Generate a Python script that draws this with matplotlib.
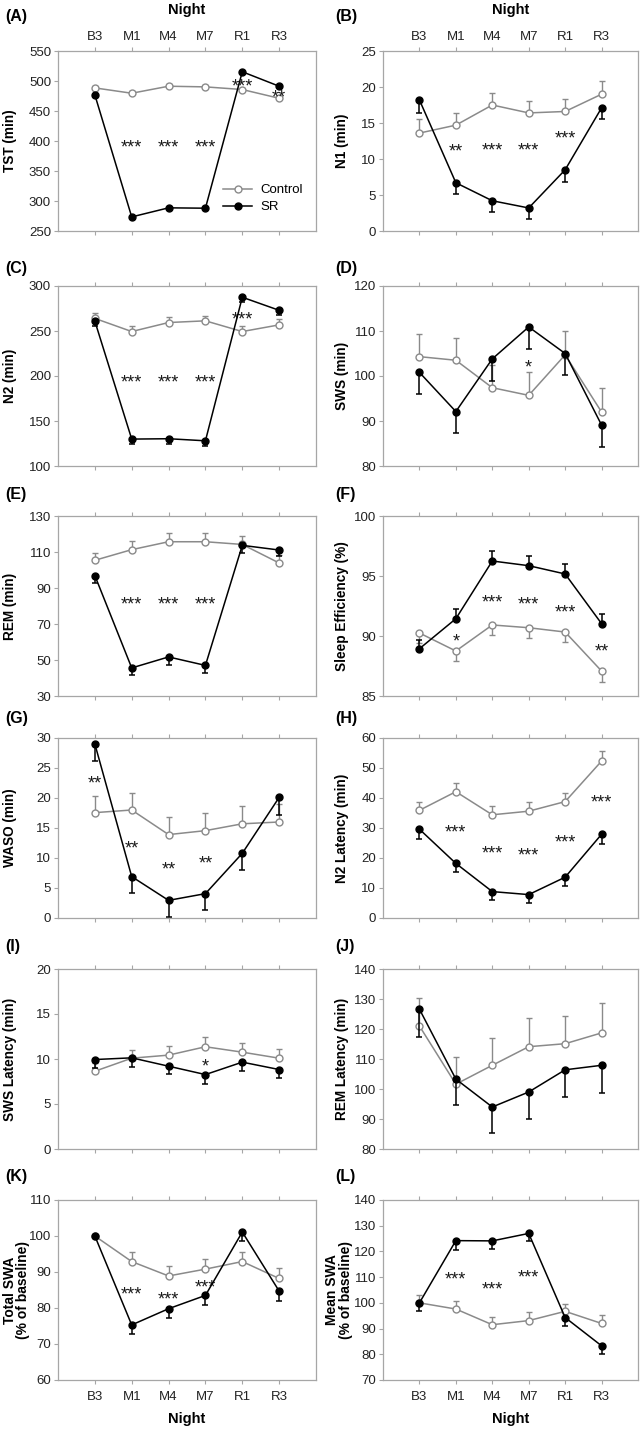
import numpy as np
import matplotlib
matplotlib.use("Agg")
import matplotlib.pyplot as plt
from matplotlib.lines import Line2D

plt.rcParams["font.family"] = ["Liberation Sans", "DejaVu Sans"]

nights = ["B3", "M1", "M4", "M7", "R1", "R3"]

# (A) TST
tst_ctrl = [488.5, 479.6, 491.3, 490.2, 485.8, 471.2]
tst_ctrl_err = [3, 3, 3, 3, 3, 3]
tst_sr = [476.8, 273.5, 288.6, 288.0, 515.4, 491.3]
tst_sr_err = [3, 3, 3, 3, 3, 3]
tst_star_x = [1, 2, 3, 4, 5]
tst_star_txt = ["***", "***", "***", "***", "**"]
tst_star_y = [397, 397, 397, 500, 481]

# (B) N1
n1_ctrl = [13.6, 14.7, 17.5, 16.4, 16.6, 19.0]
n1_ctrl_err = [1.9, 1.7, 1.7, 1.7, 1.7, 1.9]
n1_sr = [18.2, 6.7, 4.2, 3.2, 8.5, 17.1]
n1_sr_err = [1.8, 1.5, 1.5, 1.6, 1.7, 1.6]
n1_star_x = [1, 2, 3, 4]
n1_star_txt = ["**", "***", "***", "***"]
n1_star_y = [11.8, 11.9, 11.9, 13.5]

# (C) N2
n2_ctrl = [264.0, 249.4, 259.4, 261.3, 249.4, 256.8]
n2_ctrl_err = [6, 6, 6, 5.5, 6, 6]
n2_sr = [260.9, 129.9, 130.3, 128.0, 287.5, 273.0]
n2_sr_err = [5.5, 5.5, 5.5, 5.5, 5, 5]
n2_star_x = [1, 2, 3, 4]
n2_star_txt = ["***", "***", "***", "***"]
n2_star_y = [198, 198, 198, 269]

# (D) SWS
sws_ctrl = [104.3, 103.5, 97.4, 95.7, 104.7, 92.0]
sws_ctrl_err = [5.1, 5.0, 5.1, 5.1, 5.2, 5.3]
sws_sr = [100.8, 92.1, 103.8, 110.9, 105.0, 89.1]
sws_sr_err = [4.9, 4.8, 4.8, 4.8, 4.8, 4.8]
sws_star_x = [3]
sws_star_txt = ["*"]
sws_star_y = [103]

# (E) REM
rem_ctrl = [105.4, 111.3, 115.7, 115.7, 114.2, 103.9]
rem_ctrl_err = [4.3, 4.6, 4.7, 4.7, 4.6, 4.5]
rem_sr = [96.9, 45.6, 51.7, 47.0, 113.7, 111.1]
rem_sr_err = [4.3, 4.1, 4.5, 4.4, 4.4, 3.3]
rem_star_x = [1, 2, 3]
rem_star_txt = ["***", "***", "***"]
rem_star_y = [83.7, 83.7, 83.7]

# (F) Sleep efficiency
se_ctrl = [90.25, 88.75, 90.92, 90.69, 90.33, 87.08]
se_ctrl_err = [0.8, 0.85, 0.84, 0.83, 0.83, 0.91]
se_sr = [88.94, 91.44, 96.25, 95.86, 95.17, 91.03]
se_sr_err = [0.73, 0.78, 0.81, 0.78, 0.80, 0.83]
se_star_x = [1, 2, 3, 4, 5]
se_star_txt = ["*", "***", "***", "***", "**"]
se_star_y = [90.0, 93.2, 93.05, 92.36, 89.1]

# (G) WASO
waso_ctrl = [17.56, 18.0, 13.9, 14.56, 15.7, 16.0]
waso_ctrl_err = [2.8, 2.9, 2.9, 2.9, 2.9, 3.0]
waso_sr = [29.0, 6.9, 2.94, 4.06, 10.78, 20.1]
waso_sr_err = [2.8, 2.7, 2.7, 2.7, 2.8, 2.9]
waso_star_x = [0, 1, 2, 3]
waso_star_txt = ["**", "**", "**", "**"]
waso_star_y = [23.3, 12.4, 9.0, 9.9]

# (H) N2 latency
n2lat_ctrl = [35.9, 42.1, 34.4, 35.6, 38.8, 52.3]
n2lat_ctrl_err = [2.9, 3.0, 2.8, 3.0, 2.9, 3.3]
n2lat_sr = [29.6, 18.2, 8.8, 7.8, 13.6, 27.9]
n2lat_sr_err = [3.2, 2.8, 2.8, 2.9, 3.0, 3.1]
n2lat_star_x = [1, 2, 3, 4, 5]
n2lat_star_txt = ["***", "***", "***", "***", "***"]
n2lat_star_y = [30.3, 23.2, 22.4, 27.0, 40.2]

# (I) SWS latency
swslat_ctrl = [8.64, 10.09, 10.43, 11.36, 10.76, 10.09]
swslat_ctrl_err = [0.9, 0.86, 1.0, 1.04, 1.01, 1.0]
swslat_sr = [9.94, 10.13, 9.2, 8.27, 9.65, 8.83]
swslat_sr_err = [0.96, 1.04, 0.9, 1.01, 0.97, 0.97]
swslat_star_x = [3]
swslat_star_txt = ["*"]
swslat_star_y = [9.7]

# (J) REM latency
remlat_ctrl = [121.0, 101.6, 107.9, 114.1, 115.1, 118.7]
remlat_ctrl_err = [9.4, 9.2, 9.1, 9.5, 9.1, 10.0]
remlat_sr = [126.6, 103.3, 94.0, 99.0, 106.4, 107.9]
remlat_sr_err = [9.2, 8.7, 8.8, 8.9, 9.1, 9.1]
remlat_star_x = []
remlat_star_txt = []
remlat_star_y = []

# (K) Total SWA
tswa_ctrl = [100.0, 92.9, 88.9, 90.8, 92.9, 88.2]
tswa_ctrl_err = [0.0, 2.7, 2.8, 2.7, 2.7, 3.0]
tswa_sr = [100.0, 75.3, 79.8, 83.5, 101.1, 84.7]
tswa_sr_err = [0.0, 2.5, 2.6, 2.8, 2.4, 2.8]
tswa_star_x = [1, 2, 3]
tswa_star_txt = ["***", "***", "***"]
tswa_star_y = [85.2, 83.9, 87.0]

# (L) Mean SWA
mswa_ctrl = [100.0, 97.6, 91.5, 93.1, 96.7, 92.0]
mswa_ctrl_err = [3.1, 3.3, 3.1, 3.2, 2.9, 3.4]
mswa_sr = [100.0, 124.2, 124.1, 127.0, 94.3, 83.3]
mswa_sr_err = [3.2, 3.5, 3.3, 2.9, 3.3, 3.3]
mswa_star_x = [1, 2, 3]
mswa_star_txt = ["***", "***", "***"]
mswa_star_y = [110.9, 107.1, 112.0]

panels = [
    ("(A)", "TST (min)", tst_ctrl, tst_ctrl_err, tst_sr, tst_sr_err,
     tst_star_x, tst_star_txt, tst_star_y, (250, 550, 50), False),
    ("(B)", "N1 (min)", n1_ctrl, n1_ctrl_err, n1_sr, n1_sr_err,
     n1_star_x, n1_star_txt, n1_star_y, (0, 25, 5), False),
    ("(C)", "N2 (min)", n2_ctrl, n2_ctrl_err, n2_sr, n2_sr_err,
     n2_star_x, n2_star_txt, n2_star_y, (100, 300, 50), False),
    ("(D)", "SWS (min)", sws_ctrl, sws_ctrl_err, sws_sr, sws_sr_err,
     sws_star_x, sws_star_txt, sws_star_y, (80, 120, 10), False),
    ("(E)", "REM (min)", rem_ctrl, rem_ctrl_err, rem_sr, rem_sr_err,
     rem_star_x, rem_star_txt, rem_star_y, (30, 130, 20), False),
    ("(F)", "Sleep Efficiency (%)", se_ctrl, se_ctrl_err, se_sr, se_sr_err,
     se_star_x, se_star_txt, se_star_y, (85, 100, 5), True),
    ("(G)", "WASO (min)", waso_ctrl, waso_ctrl_err, waso_sr, waso_sr_err,
     waso_star_x, waso_star_txt, waso_star_y, (0, 30, 5), False),
    ("(H)", "N2 Latency (min)", n2lat_ctrl, n2lat_ctrl_err, n2lat_sr, n2lat_sr_err,
     n2lat_star_x, n2lat_star_txt, n2lat_star_y, (0, 60, 10), False),
    ("(I)", "SWS Latency (min)", swslat_ctrl, swslat_ctrl_err, swslat_sr, swslat_sr_err,
     swslat_star_x, swslat_star_txt, swslat_star_y, (0, 20, 5), False),
    ("(J)", "REM Latency (min)", remlat_ctrl, remlat_ctrl_err, remlat_sr, remlat_sr_err,
     remlat_star_x, remlat_star_txt, remlat_star_y, (80, 140, 10), False),
    ("(K)", "Total SWA\n(% of baseline)", tswa_ctrl, tswa_ctrl_err, tswa_sr, tswa_sr_err,
     tswa_star_x, tswa_star_txt, tswa_star_y, (60, 110, 10), False),
    ("(L)", "Mean SWA\n(% of baseline)", mswa_ctrl, mswa_ctrl_err, mswa_sr, mswa_sr_err,
     mswa_star_x, mswa_star_txt, mswa_star_y, (70, 140, 10), False),
]

W, H = 644, 1431
fig = plt.figure(figsize=(W / 100, H / 100), dpi=100)

col_left = [58, 383]
col_width = [258, 255]
row_top = [51, 286, 516, 738, 969, 1200]
row_h = 180
label_y = [17, 268, 495, 719, 947, 1177]
label_x = [5, 335]

grey = "#8a8a8a"
spine_grey = "#a6a6a6"
x = np.arange(1, 7)

for i, (tag, ylab, c, ce, s, se, sx, stxt, sy, yr, flip) in enumerate(panels):
    row, col = divmod(i, 2)
    ax = fig.add_axes([col_left[col] / W, 1 - (row_top[row] + row_h) / H,
                       col_width[col] / W, row_h / H])
    c_err = np.array(ce)
    s_err = np.array(se)
    zero = np.zeros(6)
    if flip:
        c_yerr, s_yerr = [c_err, zero], [zero, s_err]
    else:
        c_yerr, s_yerr = [zero, c_err], [s_err, zero]

    ax.errorbar(x, c, yerr=c_yerr, fmt="-o", color=grey, ecolor=grey,
                mfc="white", mec=grey, ms=5, lw=1.1, elinewidth=1,
                capsize=2.3, capthick=1, zorder=2)
    ax.errorbar(x, s, yerr=s_yerr, fmt="-o", color="black", ecolor="black",
                mfc="black", mec="black", ms=5, lw=1.1, elinewidth=1.1,
                capsize=2.3, capthick=1.1, zorder=3)

    for xi, t, yi in zip(sx, stxt, sy):
        ax.annotate(t, (x[xi], yi), xytext=(0, -7.3), textcoords="offset points",
                    ha="center", va="baseline", fontsize=13, color="#1a1a1a")

    lo, hi, step = yr
    ax.set_ylim(lo, hi)
    ax.set_yticks(np.arange(lo, hi + step / 2, step))
    ax.set_xlim(0, 7)
    ax.set_xticks(x)

    for sp in ax.spines.values():
        sp.set_color(spine_grey)
        sp.set_linewidth(0.9)
    ax.tick_params(axis="y", direction="out", length=3, color=spine_grey,
                   labelsize=9.5, labelcolor="#222222", pad=2, right=False)
    ax.tick_params(axis="x", direction="out", length=3, color=spine_grey,
                   top=True, bottom=True, labelsize=9.5, labelcolor="#222222",
                   labeltop=(row == 0), labelbottom=(row == 5), pad=5)
    if row == 0:
        ax.tick_params(axis="x", which="major", pad=3)
    ax.set_xticklabels(nights)

    # label x is the right edge of the (rotated) text
    if "\n" in ylab:
        ax.set_ylabel(ylab, fontsize=10, fontweight="bold", linespacing=0.95)
        ax.yaxis.set_label_coords(-0.108 if col == 0 else -0.118, 0.5)
    else:
        ax.set_ylabel(ylab, fontsize=9.8, fontweight="bold")
        ax.yaxis.set_label_coords(-0.158 if col == 0 else -0.135, 0.5)

    fig.text(label_x[col] / W, 1 - label_y[row] / H, tag, fontsize=11.5,
             fontweight="bold", ha="left", va="center")

    if row == 0:
        fig.text((col_left[col] + col_width[col] * 3.5 / 7) / W, 1 - 10 / H, "Night",
                 fontsize=10.5, fontweight="bold", ha="center", va="center")
    if row == 5:
        fig.text((col_left[col] + col_width[col] * 3.5 / 7) / W, 1 - 1419 / H, "Night",
                 fontsize=10.5, fontweight="bold", ha="center", va="center")

    if i == 0:
        handles = [
            Line2D([], [], color=grey, marker="o", mfc="white", mec=grey, ms=5, lw=1.1),
            Line2D([], [], color="black", marker="o", mfc="black", mec="black", ms=5, lw=1.1),
        ]
        ax.legend(handles, ["Control", "SR"], loc="upper left",
                  bbox_to_anchor=(0.62, 0.29), frameon=False,
                  fontsize=9.5, handlelength=2.2, handletextpad=0.6,
                  labelspacing=0.35, borderaxespad=0)

fig.savefig("out.png", dpi=100)
